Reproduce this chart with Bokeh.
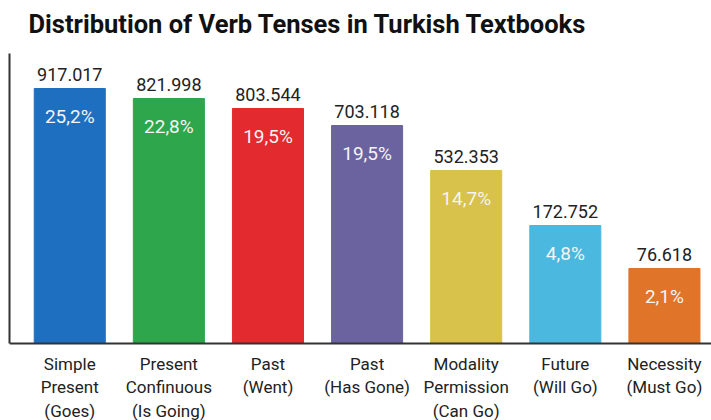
from bokeh.plotting import figure
from bokeh.models import Range1d, FixedTicker, ColumnDataSource, Span, Label
from bokeh.core.properties import value
from bokeh.embed import file_html
from bokeh.resources import INLINE

# ---- data ----
title_text = "Distribution of Verb Tenses in Turkish Textbooks"
categories = ["Simple\nPresent\n(Goes)", "Present\nConfinuous\n(Is Going)", "Past\n(Went)",
              "Past\n(Has Gone)", "Modality\nPermission\n(Can Go)", "Future\n(Will Go)",
              "Necessity\n(Must Go)"]
counts = ["917.017", "821.998", "803.544", "703.118", "532.353", "172.752", "76.618"]
percents = ["25,2%", "22,8%", "19,5%", "19,5%", "14,7%", "4,8%", "2,1%"]
# drawn bar heights (the original chart is not to scale)
bar_heights = [255, 245, 235, 218, 173, 118, 75]
colors = ["#1F6FC1", "#2EA64C", "#E22A2F", "#6B63A0", "#D8C24B", "#4BB8E0", "#E07429"]

FONT = "Roboto"
W, H = 711, 420
AXIS_TOP = 290       # top of the drawn value axis
Y_TOP = 343          # headroom for the title
Y_BOTTOM = -77       # room below the baseline for category labels
X_START, X_END = -0.608, 6.475

xs = list(range(len(categories)))
src = ColumnDataSource(dict(x=xs, top=bar_heights, color=colors, count=counts,
                            pct=percents, cat=categories, base=[0] * len(xs)))

p = figure(width=W, height=H, output_backend="svg", toolbar_location=None,
           x_range=Range1d(X_START, X_END), y_range=Range1d(Y_BOTTOM, Y_TOP),
           min_border_left=9, min_border_right=0, min_border_top=0, min_border_bottom=0)
p.background_fill_color = "white"
p.border_fill_color = "white"
p.outline_line_color = None
p.grid.visible = False

p.vbar(x="x", top="top", width=0.717, bottom=0, color="color", source=src)

p.text(x="x", y="top", text="count", source=src, text_align="center", text_baseline="bottom",
       y_offset=-8, text_font=value(FONT), text_font_size="18px", text_color="#222222")
p.text(x="x", y="top", text="pct", source=src, text_align="center", text_baseline="middle",
       y_offset=28, text_font=value(FONT), text_font_size="19px", text_color="#F4F4F4")

# category labels below the baseline
p.text(x="x", y="base", text="cat", source=src, text_align="center", text_baseline="top",
       y_offset=10, text_font=value(FONT), text_font_size="17px", text_color="#222222",
       text_line_height=1.18)

# baseline
p.add_layout(Span(location=0, dimension="width", line_color="#333333", line_width=2))

# title
p.add_layout(Label(x=19, y=397, x_units="screen", y_units="screen", text=title_text,
                   text_font=FONT, text_font_size="25.5px", text_font_style="bold",
                   text_color="#111111", text_baseline="alphabetic", text_align="left"))

p.xaxis.visible = False

ya = p.yaxis[0]
ya.bounds = (0, AXIS_TOP)
ya.ticker = FixedTicker(ticks=[])
ya.major_tick_out = 0
ya.major_tick_in = 0
ya.minor_tick_out = 0
ya.minor_tick_in = 0
ya.major_label_standoff = 0
ya.major_label_text_font_size = "0px"
ya.axis_line_color = "#333333"
ya.axis_line_width = 2

open("out.html", "w").write(file_html(p, INLINE))
